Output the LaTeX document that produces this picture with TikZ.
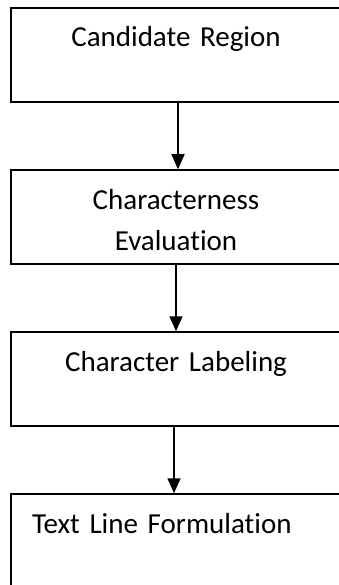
\documentclass[tikz,border=0pt]{standalone}
\usepackage{fontspec}
\setmainfont{Carlito}[Ligatures=NoCommon]
\usetikzlibrary{arrows.meta}

\begin{document}
\begin{tikzpicture}

		\tikzstyle{stage}=[rectangle,
			draw=black,line width=1.5pt,
			text width=288pt,inner xsep=21pt,inner ysep=0pt,
			text height=39pt,text depth=55pt,
			align=center,node distance=162pt,
			font=\fontsize{29}{41}\selectfont]
		\tikzstyle{flow}=[->,>={Triangle[length=15pt,width=13pt]},line width=1.5pt]

		\useasboundingbox (0,0) rectangle (339pt,-585pt);
		\clip (0,0) rectangle (339pt,-585pt);

		\node[stage]	(candidate)	at (176pt,-55pt)	{Candidate Region};
		\node[stage,below of=candidate]	(evaluation)	{Characterness\\Evaluation};
		\node[stage,below of=evaluation]	(labeling)	{Character Labeling};
		\node[stage,below of=labeling,align=left]	(formulation)	{Text Line Formulation};

		\draw[flow] ([xshift=2pt]candidate.south) -- ([xshift=2pt]evaluation.north);
		\draw[flow] (evaluation.south) -- (labeling.north);
		\draw[flow] ([xshift=-2pt]labeling.south) -- ([xshift=-2pt]formulation.north);

	\end{tikzpicture}
\end{document}
